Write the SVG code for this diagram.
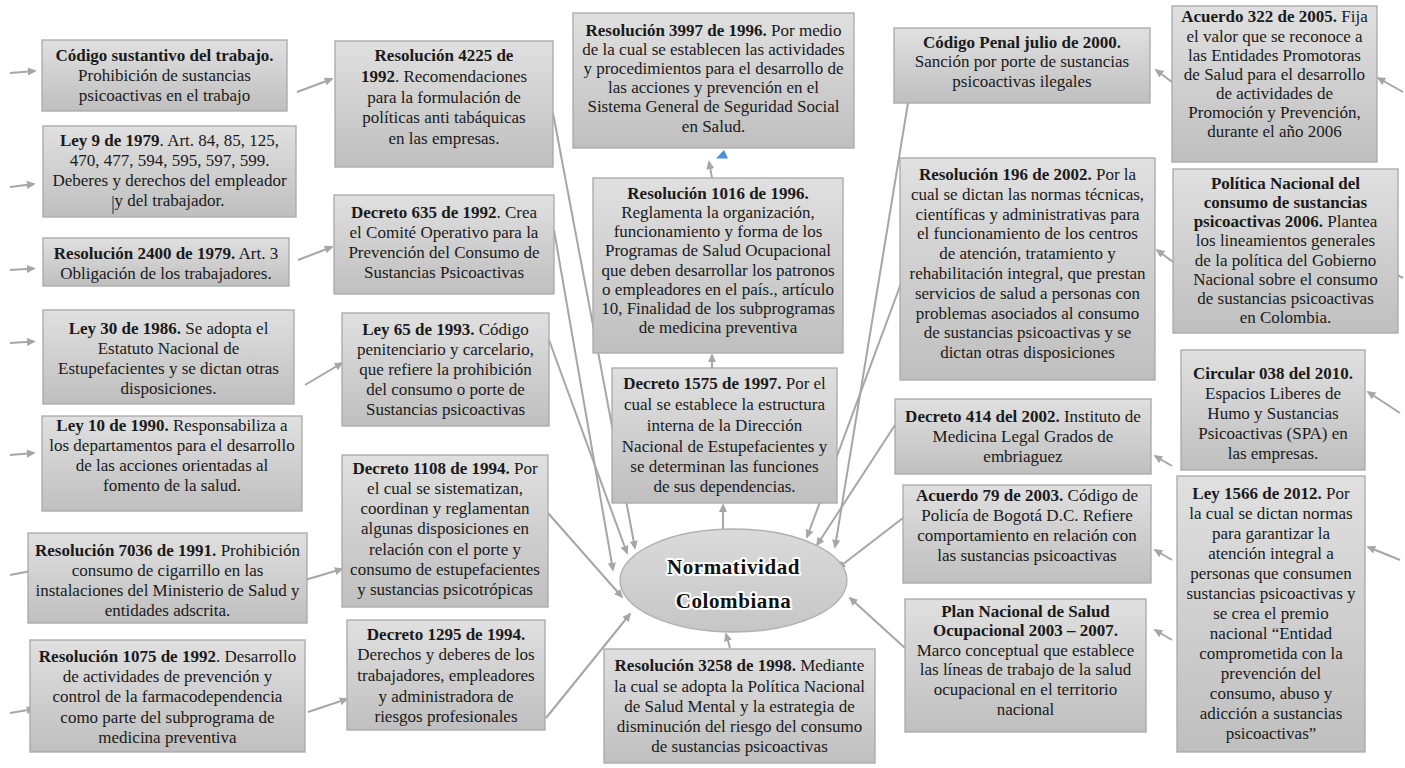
<svg xmlns="http://www.w3.org/2000/svg" width="1405" height="768" viewBox="0 0 1405 768">
<style>
.box{fill:url(#bg);stroke:#a8a8a8;stroke-width:1.3}
.t{font-family:"Liberation Serif","Times New Roman",serif;font-size:17px;fill:#1a1a1a;text-anchor:middle}
.b{font-weight:bold}
.c{stroke:#a6a6a6;stroke-width:2;fill:none;marker-end:url(#ah)}
.ct{font-family:"Liberation Serif","Times New Roman",serif;font-size:21px;font-weight:bold;fill:#111;text-anchor:middle;letter-spacing:0.6px;stroke:#fff;stroke-width:4;stroke-linejoin:round;paint-order:stroke}
</style>
<defs>
<linearGradient id="bg" x1="0" y1="0" x2="0" y2="1">
<stop offset="0" stop-color="#e0e0e0"/>
<stop offset="1" stop-color="#bfbfbf"/>
</linearGradient>
<linearGradient id="eg" x1="0" y1="0" x2="0" y2="1">
<stop offset="0" stop-color="#dadada"/>
<stop offset="1" stop-color="#c6c6c6"/>
</linearGradient>
<marker id="ah" viewBox="0 0 10 10" refX="8" refY="5" markerWidth="4.5" markerHeight="4.5" orient="auto" markerUnits="strokeWidth">
<path d="M0,0.5 L10,5 L0,9.5 z" fill="#a6a6a6"/>
</marker>
</defs>
<rect width="1405" height="768" fill="#fff"/>

<g id="connectors">
<line class="c" x1="10" y1="73" x2="35" y2="71"/>
<line class="c" x1="10" y1="187" x2="34" y2="184"/>
<line class="c" x1="10" y1="270" x2="34" y2="268.5"/>
<line class="c" x1="10" y1="343" x2="34" y2="341.5"/>
<line class="c" x1="10" y1="455" x2="34" y2="453"/>
<line class="c" x1="10" y1="575" x2="36" y2="570"/>
<line class="c" x1="10" y1="713" x2="34" y2="709"/>
<line class="c" x1="297" y1="92" x2="332" y2="79"/>
<line class="c" x1="298" y1="260" x2="332" y2="247"/>
<line class="c" x1="305" y1="385" x2="342" y2="363"/>
<line class="c" x1="305" y1="580" x2="342" y2="569"/>
<line class="c" x1="308" y1="712" x2="347" y2="699"/>
<line class="c" x1="553" y1="113" x2="635" y2="548"/>
<line class="c" x1="554" y1="230" x2="613" y2="570"/>
<line class="c" x1="549" y1="340" x2="627" y2="553"/>
<line class="c" x1="548" y1="513" x2="622" y2="597"/>
<line class="c" x1="546" y1="718" x2="630" y2="614"/>
<line class="c" x1="723" y1="530" x2="723" y2="505"/>
<line class="c" x1="712" y1="368" x2="712" y2="355"/>
<line class="c" x1="712" y1="178" x2="709" y2="162"/>
<line class="c" x1="730" y1="648" x2="726" y2="634"/>
<line class="c" x1="908" y1="103" x2="835" y2="547"/>
<line class="c" x1="903" y1="278" x2="807" y2="537"/>
<line class="c" x1="895" y1="425" x2="817" y2="545"/>
<line class="c" x1="903" y1="518" x2="838" y2="568"/>
<line class="c" x1="905" y1="648" x2="850" y2="598"/>
<line class="c" x1="1172" y1="82" x2="1156" y2="70"/>
<line class="c" x1="1173" y1="262" x2="1157" y2="250"/>
<line class="c" x1="1172" y1="466" x2="1155" y2="456"/>
<line class="c" x1="1172" y1="560" x2="1155" y2="550"/>
<line class="c" x1="1172" y1="640" x2="1155" y2="630"/>
<line class="c" x1="1403" y1="92" x2="1378" y2="78"/>
<line class="c" x1="1403" y1="278" x2="1378" y2="265"/>
<line class="c" x1="1400" y1="413" x2="1368" y2="392"/>
<line class="c" x1="1400" y1="560" x2="1368" y2="547"/>
<polygon points="724,150 716,158.5 728,158.5" fill="#4a8fd6"/>
</g>

<g id="n1"><rect class="box" x="42" y="40" width="245" height="71"/>
<text class="t" x="164.5" y="61"><tspan class="b">Código sustantivo del trabajo.</tspan></text>
<text class="t" x="164.5" y="81">Prohibición de sustancias</text>
<text class="t" x="164.5" y="101">psicoactivas en el trabajo</text></g>

<g id="n2"><rect class="box" x="43" y="126" width="253" height="91"/>
<text class="t" x="169.5" y="145.5"><tspan class="b">Ley 9 de 1979</tspan>. Art. 84, 85, 125,</text>
<text class="t" x="169.5" y="165.5">470, 477, 594, 595, 597, 599.</text>
<text class="t" x="169.5" y="185.5">Deberes y derechos del empleador</text>
<text class="t" x="169.5" y="206">y del trabajador.</text>
<line x1="113" y1="196" x2="113" y2="214" stroke="#333" stroke-width="1"/></g>

<g id="n3"><rect class="box" x="43" y="238" width="246" height="48"/>
<text class="t" x="166" y="258.5"><tspan class="b">Resolución 2400 de 1979.</tspan> Art. 3</text>
<text class="t" x="166" y="278.5">Obligación de los trabajadores.</text></g>

<g id="n4"><rect class="box" x="43" y="310" width="251" height="94"/>
<text class="t" x="168.5" y="333.5"><tspan class="b">Ley 30 de 1986.</tspan> Se adopta el</text>
<text class="t" x="168.5" y="353.5">Estatuto Nacional de</text>
<text class="t" x="168.5" y="373.5">Estupefacientes y se dictan otras</text>
<text class="t" x="168.5" y="393.5">disposiciones.</text></g>

<g id="n5"><rect class="box" x="42" y="416" width="260" height="95"/>
<text class="t" x="172" y="430.5"><tspan class="b">Ley 10 de 1990.</tspan> Responsabiliza a</text>
<text class="t" x="172" y="450.5">los departamentos para el desarrollo</text>
<text class="t" x="172" y="470.5">de las acciones orientadas al</text>
<text class="t" x="172" y="490.5">fomento de la salud.</text></g>

<g id="n6"><rect class="box" x="28" y="533" width="279" height="90"/>
<text class="t" x="167.5" y="555.5"><tspan class="b">Resolución 7036 de 1991.</tspan> Prohibición</text>
<text class="t" x="167.5" y="575.5">consumo de cigarrillo  en las</text>
<text class="t" x="167.5" y="595.5">instalaciones del Ministerio de Salud y</text>
<text class="t" x="167.5" y="616">entidades adscrita.</text></g>

<g id="n7"><rect class="box" x="30" y="640" width="275" height="112"/>
<text class="t" x="167.5" y="662"><tspan class="b">Resolución 1075 de 1992</tspan>. Desarrollo</text>
<text class="t" x="167.5" y="682">de actividades de prevención y</text>
<text class="t" x="167.5" y="702">control de la farmacodependencia</text>
<text class="t" x="167.5" y="723">como parte del subprograma de</text>
<text class="t" x="167.5" y="743">medicina preventiva</text></g>

<g id="n8"><rect class="box" x="335" y="41" width="218" height="126"/>
<text class="t" x="444" y="61" font-size="18"><tspan class="b">Resolución 4225 de</tspan></text>
<text class="t" x="444" y="82" font-size="18"><tspan class="b">1992</tspan>. Recomendaciones</text>
<text class="t" x="444" y="103" font-size="18">para la formulación de</text>
<text class="t" x="444" y="123" font-size="18">políticas anti tabáquicas</text>
<text class="t" x="444" y="144" font-size="18">en las empresas.</text></g>

<g id="n9"><rect class="box" x="334" y="195" width="220" height="99"/>
<text class="t" x="444" y="218"><tspan class="b">Decreto 635 de 1992</tspan>. Crea</text>
<text class="t" x="444" y="238">el Comité Operativo para la</text>
<text class="t" x="444" y="258">Prevención del Consumo de</text>
<text class="t" x="444" y="278">Sustancias Psicoactivas</text></g>

<g id="n10"><rect class="box" x="342" y="313" width="207" height="113"/>
<text class="t" x="445.5" y="335"><tspan class="b">Ley 65 de 1993.</tspan> Código</text>
<text class="t" x="445.5" y="355">penitenciario y carcelario,</text>
<text class="t" x="445.5" y="375">que refiere la prohibición</text>
<text class="t" x="445.5" y="395">del consumo o porte de</text>
<text class="t" x="445.5" y="415">Sustancias psicoactivas</text></g>

<g id="n11"><rect class="box" x="342" y="455" width="206" height="152"/>
<text class="t" x="445" y="474"><tspan class="b">Decreto 1108 de 1994.</tspan> Por</text>
<text class="t" x="445" y="494">el cual se sistematizan,</text>
<text class="t" x="445" y="514">coordinan y reglamentan</text>
<text class="t" x="445" y="534">algunas disposiciones en</text>
<text class="t" x="445" y="555">relación con el porte y</text>
<text class="t" x="445" y="575">consumo de estupefacientes</text>
<text class="t" x="445" y="595">y sustancias psicotrópicas</text></g>

<g id="n12"><rect class="box" x="347" y="620" width="198" height="110"/>
<text class="t" x="446" y="639.5"><tspan class="b">Decreto 1295 de 1994.</tspan></text>
<text class="t" x="446" y="659.5">Derechos y deberes de los</text>
<text class="t" x="446" y="680.5">trabajadores, empleadores</text>
<text class="t" x="446" y="701.5">y administradora de</text>
<text class="t" x="446" y="721.5">riesgos profesionales</text></g>

<g id="n13"><rect class="box" x="573" y="13" width="281" height="135"/>
<text class="t" x="713.5" y="35.5"><tspan class="b">Resolución 3997 de 1996.</tspan> Por medio</text>
<text class="t" x="713.5" y="55">de la cual se establecen las actividades</text>
<text class="t" x="713.5" y="74">y procedimientos para el desarrollo de</text>
<text class="t" x="713.5" y="93">las acciones y prevención en el</text>
<text class="t" x="713.5" y="112">Sistema General de Seguridad Social</text>
<text class="t" x="713.5" y="131.5">en Salud.</text></g>

<g id="n14"><rect class="box" x="593" y="178" width="250" height="175"/>
<text class="t" x="718" y="199"><tspan class="b">Resolución 1016 de 1996.</tspan></text>
<text class="t" x="718" y="218">Reglamenta la organización,</text>
<text class="t" x="718" y="237">funcionamiento y forma de los</text>
<text class="t" x="718" y="256">Programas de Salud Ocupacional</text>
<text class="t" x="718" y="275.5">que deben desarrollar los patronos</text>
<text class="t" x="718" y="294.5">o empleadores en el país., artículo</text>
<text class="t" x="718" y="314">10, Finalidad de los subprogramas</text>
<text class="t" x="718" y="333">de medicina preventiva</text></g>

<g id="n15"><rect class="box" x="612" y="368" width="225" height="135"/>
<text class="t" x="724.5" y="389"><tspan class="b">Decreto 1575 de 1997.</tspan>  Por el</text>
<text class="t" x="724.5" y="410">cual se establece la estructura</text>
<text class="t" x="724.5" y="430.5">interna de la Dirección</text>
<text class="t" x="724.5" y="451.5">Nacional de Estupefacientes y</text>
<text class="t" x="724.5" y="471.5">se determinan las funciones</text>
<text class="t" x="724.5" y="491.5">de sus dependencias.</text></g>

<g id="center"><ellipse cx="733.5" cy="580.5" rx="113.5" ry="51.5" fill="url(#eg)" stroke="#b0b0b0" stroke-width="1.3"/>
<text class="ct" x="733.5" y="574">Normatividad</text>
<text class="ct" x="733.5" y="608">Colombiana</text></g>

<g id="n17"><rect class="box" x="604" y="649" width="271" height="114"/>
<text class="t" x="739.5" y="670.5"><tspan class="b">Resolución 3258 de 1998.</tspan> Mediante</text>
<text class="t" x="739.5" y="692">la cual se adopta la Política Nacional</text>
<text class="t" x="739.5" y="712">de Salud Mental y la estrategia de</text>
<text class="t" x="739.5" y="731.5">disminución del riesgo del consumo</text>
<text class="t" x="739.5" y="751.5">de sustancias psicoactivas</text></g>

<g id="n18"><rect class="box" x="894" y="28" width="256" height="75"/>
<text class="t" x="1022" y="48"><tspan class="b">Código Penal julio de 2000.</tspan></text>
<text class="t" x="1022" y="67">Sanción por porte de sustancias</text>
<text class="t" x="1022" y="87">psicoactivas ilegales</text></g>

<g id="n19"><rect class="box" x="900" y="158" width="255" height="222"/>
<text class="t" x="1027.5" y="179.5"><tspan class="b">Resolución 196 de 2002.</tspan> Por la</text>
<text class="t" x="1027.5" y="199.5">cual se dictan las normas técnicas,</text>
<text class="t" x="1027.5" y="219.5">científicas y administrativas para</text>
<text class="t" x="1027.5" y="239">el funcionamiento de los centros</text>
<text class="t" x="1027.5" y="259">de atención, tratamiento y</text>
<text class="t" x="1027.5" y="279">rehabilitación integral, que prestan</text>
<text class="t" x="1027.5" y="298.5">servicios de salud a personas con</text>
<text class="t" x="1027.5" y="318.5">problemas asociados al consumo</text>
<text class="t" x="1027.5" y="338">de sustancias psicoactivas y se</text>
<text class="t" x="1027.5" y="358">dictan otras disposiciones</text></g>

<g id="n20"><rect class="box" x="895" y="399" width="256" height="75"/>
<text class="t" x="1023" y="422"><tspan class="b">Decreto 414 del 2002.</tspan>  Instituto de</text>
<text class="t" x="1023" y="442">Medicina Legal Grados de</text>
<text class="t" x="1023" y="462">embriaguez</text></g>

<g id="n21"><rect class="box" x="903" y="485" width="248" height="98"/>
<text class="t" x="1027" y="500.5"><tspan class="b">Acuerdo 79 de 2003.</tspan> Código de</text>
<text class="t" x="1027" y="520.5">Policía de Bogotá D.C. Refiere</text>
<text class="t" x="1027" y="540.5">comportamiento en relación con</text>
<text class="t" x="1027" y="560.5">las sustancias psicoactivas</text></g>

<g id="n22"><rect class="box" x="905" y="599" width="241" height="133"/>
<text class="t" x="1025.5" y="617"><tspan class="b">Plan Nacional de Salud</tspan></text>
<text class="t" x="1025.5" y="636"><tspan class="b">Ocupacional 2003 – 2007.</tspan></text>
<text class="t" x="1025.5" y="655.5">Marco conceptual que establece</text>
<text class="t" x="1025.5" y="675">las líneas de trabajo de la salud</text>
<text class="t" x="1025.5" y="695">ocupacional en el territorio</text>
<text class="t" x="1025.5" y="715">nacional</text></g>

<g id="n23"><rect class="box" x="1172" y="6" width="205" height="156"/>
<text class="t" x="1274.5" y="22"><tspan class="b">Acuerdo 322 de 2005.</tspan> Fija</text>
<text class="t" x="1274.5" y="41.5">el valor que se reconoce a</text>
<text class="t" x="1274.5" y="60.5">las Entidades Promotoras</text>
<text class="t" x="1274.5" y="79.5">de Salud para el desarrollo</text>
<text class="t" x="1274.5" y="99">de actividades de</text>
<text class="t" x="1274.5" y="118">Promoción y Prevención,</text>
<text class="t" x="1274.5" y="137">durante el año 2006</text></g>

<g id="n24"><rect class="box" x="1173" y="169" width="225" height="164"/>
<text class="t" x="1285.5" y="189"><tspan class="b">Política Nacional del</tspan></text>
<text class="t" x="1285.5" y="208"><tspan class="b">consumo de sustancias</tspan></text>
<text class="t" x="1285.5" y="227"><tspan class="b">psicoactivas 2006.</tspan> Plantea</text>
<text class="t" x="1285.5" y="246">los lineamientos generales</text>
<text class="t" x="1285.5" y="265.5">de la política del Gobierno</text>
<text class="t" x="1285.5" y="284.5">Nacional sobre el consumo</text>
<text class="t" x="1285.5" y="303.5">de sustancias psicoactivas</text>
<text class="t" x="1285.5" y="323">en Colombia.</text></g>

<g id="n25"><rect class="box" x="1181" y="350" width="184" height="120"/>
<text class="t" x="1273" y="379"><tspan class="b">Circular 038 del 2010.</tspan></text>
<text class="t" x="1273" y="399">Espacios Liberes de</text>
<text class="t" x="1273" y="419">Humo y Sustancias</text>
<text class="t" x="1273" y="439">Psicoactivas (SPA) en</text>
<text class="t" x="1273" y="459">las empresas.</text></g>

<g id="n26"><rect class="box" x="1177" y="476" width="188" height="276"/>
<text class="t" x="1271" y="499"><tspan class="b">Ley 1566 de 2012.</tspan> Por</text>
<text class="t" x="1271" y="519">la cual se dictan normas</text>
<text class="t" x="1271" y="539">para garantizar la</text>
<text class="t" x="1271" y="559">atención integral a</text>
<text class="t" x="1271" y="579">personas que consumen</text>
<text class="t" x="1271" y="599">sustancias psicoactivas y</text>
<text class="t" x="1271" y="619">se crea el premio</text>
<text class="t" x="1271" y="639">nacional “Entidad</text>
<text class="t" x="1271" y="659">comprometida con la</text>
<text class="t" x="1271" y="679">prevención del</text>
<text class="t" x="1271" y="699">consumo, abuso y</text>
<text class="t" x="1271" y="719">adicción a sustancias</text>
<text class="t" x="1271" y="739">psicoactivas”</text></g>
</svg>
